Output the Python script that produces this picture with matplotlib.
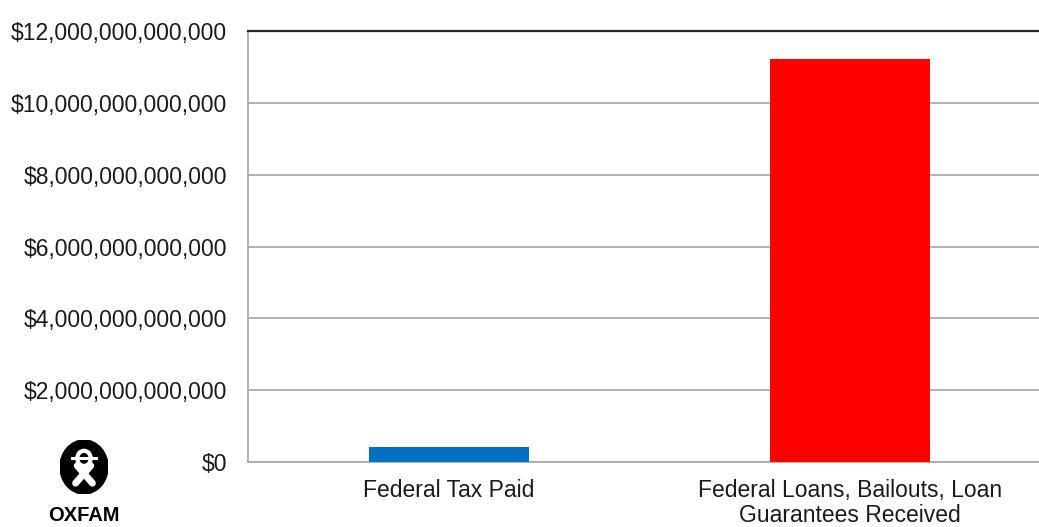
import matplotlib.pyplot as plt
from matplotlib.patches import Ellipse, Circle
from matplotlib.ticker import FuncFormatter

categories = ['Federal Tax Paid', 'Federal Loans, Bailouts, Loan\nGuarantees Received']
values = [4.23e11, 1.122e13]
colors = ['#0070C0', '#FF0000']
yticks = [0, 2e12, 4e12, 6e12, 8e12, 10e12, 12e12]

plt.rcParams['font.family'] = ['Liberation Sans', 'DejaVu Sans']

fig = plt.figure(figsize=(10.39, 5.27), dpi=100)
ax = fig.add_axes([0.2387, 0.1233, 0.7613, 0.8179])

x = range(len(categories))
ax.bar(x, values, width=0.398, color=colors, zorder=3)
ax.set_xlim(-0.5, 1.47)
ax.set_ylim(0, 12e12)
ax.set_yticks(yticks)
ax.yaxis.set_major_formatter(FuncFormatter(lambda v, p: '${:,.0f}'.format(v)))
ax.set_xticks(list(x))
ax.set_xticklabels(categories, fontsize=16.5, linespacing=1.15, color='#1a1a1a')
ax.tick_params(axis='y', length=0, pad=15, labelsize=16.5, labelcolor='#1a1a1a')
ax.tick_params(axis='x', length=0, pad=12)
ax.grid(axis='y', color='#a6a6a6', linewidth=1.2, zorder=0)

ax.spines['right'].set_visible(False)
ax.spines['top'].set_color('#262626')
ax.spines['top'].set_linewidth(1.6)
ax.spines['left'].set_color('#a6a6a6')
ax.spines['left'].set_linewidth(1.2)
ax.spines['bottom'].set_color('#a6a6a6')
ax.spines['bottom'].set_linewidth(1.2)

# oxfam logo
lax = fig.add_axes([60 / 1039, (527 - 494) / 527, 48 / 1039, 54 / 527])
lax.set_xlim(-1, 1)
lax.set_ylim(-1, 1)
lax.axis('off')
lax.add_patch(Ellipse((0, 0), 2, 2, color='black'))
lax.add_patch(Circle((0, 0.32), 0.28, fill=False, ec='white', lw=3.0))
lax.plot([-0.5, 0.5], [0.32, 0.32], color='white', lw=2.2)
lax.plot([-0.28, 0.35], [0.05, -0.6], color='white', lw=5, solid_capstyle='round')
lax.plot([0.28, -0.35], [0.05, -0.6], color='white', lw=5, solid_capstyle='round')
fig.text(84 / 1039, 0.004, 'OXFAM', ha='center', va='bottom', fontsize=14.5,
         fontweight='bold')

fig.savefig('out.png', dpi=100)
